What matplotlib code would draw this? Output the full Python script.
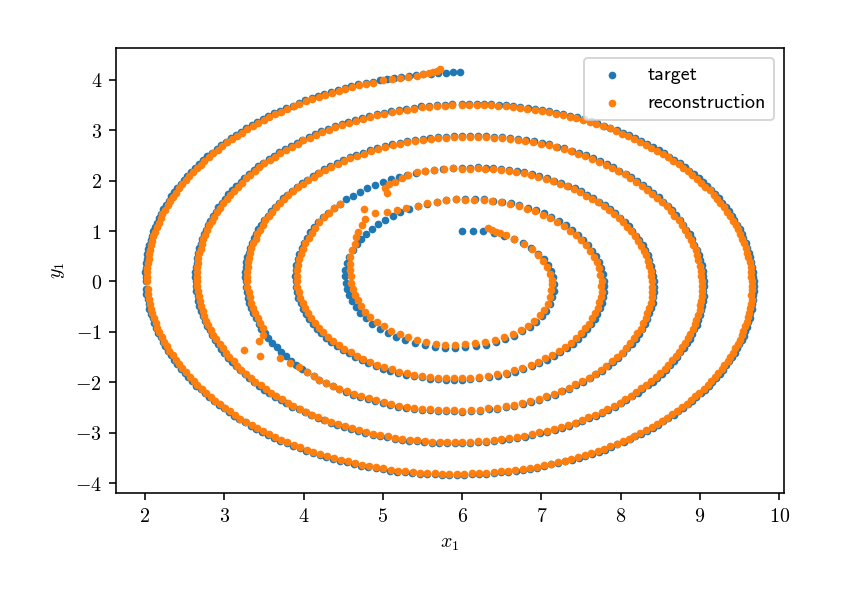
import numpy as np
import matplotlib
matplotlib.use("Agg")
import matplotlib.pyplot as plt
from matplotlib.ticker import FuncFormatter

# spiral centre; angles are degrees clockwise from the top
center_x = 6.0
center_y = 0.0

# target: ring by ring (angle, radius)
ring1_angle = [
    0, 7.5, 15, 22.5, 30, 37.5, 45, 52.5, 60,
    66.5, 73, 79.5, 86, 92.5, 99, 105.5, 112, 118.5,
    124.5, 130.5, 136.5, 142.5, 148.5, 154.5, 160.5, 166.5, 172.5, 178.5,
    184, 189.5, 195, 200.5, 206, 211.5, 217, 222.5, 228, 233.5, 239,
    244, 249, 254, 259, 264, 269, 274, 279, 284, 289, 294, 299,
    303.5, 308, 312.5, 317, 321.5, 326, 330.5, 335, 339.5, 344, 348.5, 353, 357.5,
]
ring1_r = [
    1.00, 1.01, 1.03, 1.04, 1.05, 1.07, 1.08, 1.09, 1.10,
    1.12, 1.13, 1.14, 1.15, 1.16, 1.17, 1.18, 1.20, 1.21,
    1.22, 1.23, 1.24, 1.25, 1.26, 1.27, 1.28, 1.29, 1.30, 1.31,
    1.32, 1.33, 1.34, 1.35, 1.36, 1.37, 1.38, 1.39, 1.40, 1.41, 1.42,
    1.43, 1.44, 1.44, 1.45, 1.46, 1.47, 1.48, 1.49, 1.50, 1.51, 1.51, 1.52,
    1.53, 1.54, 1.55, 1.55, 1.56, 1.57, 1.58, 1.59, 1.59, 1.60, 1.61, 1.62, 1.63,
]

ring2_angle = [
    361.5, 365.5, 369.5, 373.5, 377.5, 381.5, 385.5, 389.5, 393.5, 397.5,
    401.5, 405.5, 409.5, 413.5, 417.5, 421.5, 425.5, 429.5, 433.5, 437.5,
    441.5, 445.5, 449.5,
    453, 456.5, 460, 463.5, 467, 470.5, 474, 477.5, 481, 484.5,
    488, 491.5, 495, 498.5, 502, 505.5, 509, 512.5, 516, 519.5,
    523, 526.5, 530, 533.5, 537,
    540, 543, 546, 549, 552, 555, 558, 561, 564, 567,
    570, 573, 576, 579, 582, 585, 588, 591, 594, 597,
    600, 603, 606, 609, 612, 615, 618, 621, 624, 627,
    630, 633, 636, 639, 642, 645, 648, 651, 654, 657,
    660, 663, 666, 669, 672, 675,
]
ring2_r = [
    1.63, 1.64, 1.65, 1.65, 1.66, 1.67, 1.68, 1.68, 1.69, 1.70,
    1.70, 1.71, 1.72, 1.72, 1.73, 1.74, 1.75, 1.75, 1.76, 1.77,
    1.77, 1.78, 1.79,
    1.79, 1.80, 1.81, 1.81, 1.82, 1.82, 1.83, 1.84, 1.84, 1.85,
    1.85, 1.86, 1.87, 1.87, 1.88, 1.88, 1.89, 1.90, 1.90, 1.91,
    1.92, 1.92, 1.93, 1.93, 1.94,
    1.95, 1.95, 1.96, 1.96, 1.97, 1.97, 1.98, 1.98, 1.99, 1.99,
    2.00, 2.00, 2.01, 2.01, 2.02, 2.02, 2.03, 2.03, 2.04, 2.05,
    2.05, 2.06, 2.06, 2.07, 2.07, 2.08, 2.08, 2.09, 2.09, 2.10,
    2.10, 2.11, 2.11, 2.12, 2.12, 2.13, 2.13, 2.14, 2.14, 2.15,
    2.16, 2.16, 2.17, 2.17, 2.18, 2.18,
]
ring2_tail_angle = [678, 681, 684, 687, 690, 693, 696, 699, 702, 705, 708, 711, 714, 717]
ring2_tail_r = [2.19, 2.19, 2.20, 2.20, 2.21, 2.21, 2.22, 2.22, 2.23, 2.23, 2.24, 2.24, 2.25, 2.25]

ring3_angle = [
    720, 722.5, 725, 727.5, 730, 732.5, 735, 737.5, 740, 742.5,
    745, 747.5, 750, 752.5, 755, 757.5, 760, 762.5, 765, 767.5,
    770, 772.5, 775, 777.5, 780, 782.5, 785, 787.5, 790, 792.5,
    795, 797.5, 800, 802.5, 805, 807.5,
    810, 812.5, 815, 817.5, 820, 822.5, 825, 827.5, 830, 832.5,
    835, 837.5, 840, 842.5, 845, 847.5, 850, 852.5, 855, 857.5,
    860, 862.5, 865, 867.5, 870, 872.5, 875, 877.5, 880, 882.5,
    885, 887.5, 890, 892.5, 895, 897.5,
    900, 902.25, 904.5, 906.75, 909, 911.25, 913.5, 915.75, 918, 920.25,
    922.5, 924.75, 927, 929.25, 931.5, 933.75, 936, 938.25, 940.5, 942.75,
    945, 947.25,
]
ring3_r = [
    2.26, 2.26, 2.27, 2.27, 2.28, 2.28, 2.29, 2.29, 2.30, 2.30,
    2.30, 2.31, 2.31, 2.32, 2.32, 2.33, 2.33, 2.33, 2.34, 2.34,
    2.35, 2.35, 2.36, 2.36, 2.37, 2.37, 2.37, 2.38, 2.38, 2.39,
    2.39, 2.40, 2.40, 2.40, 2.41, 2.41,
    2.42, 2.42, 2.43, 2.43, 2.44, 2.44, 2.44, 2.45, 2.45, 2.46,
    2.46, 2.47, 2.47, 2.47, 2.48, 2.48, 2.49, 2.49, 2.50, 2.50,
    2.51, 2.51, 2.51, 2.52, 2.52, 2.53, 2.53, 2.54, 2.54, 2.54,
    2.55, 2.55, 2.56, 2.56, 2.57, 2.57,
    2.58, 2.58, 2.58, 2.59, 2.59, 2.60, 2.60, 2.60, 2.61, 2.61,
    2.61, 2.62, 2.62, 2.63, 2.63, 2.63, 2.64, 2.64, 2.65, 2.65,
    2.65, 2.66,
]
ring3_gap_angle = [949.5, 951.75, 954, 956.25, 958.5, 960.75, 963, 965.25, 967.5]
ring3_gap_r = [2.66, 2.67, 2.67, 2.67, 2.68, 2.68, 2.69, 2.69, 2.69]
ring3_tail_angle = [
    969.75, 972, 974.25, 976.5, 978.75, 981, 983.25, 985.5, 987.75,
    990, 992, 994, 996, 998, 1000, 1002, 1004, 1006, 1008,
    1010, 1012, 1014, 1016, 1018, 1020, 1022, 1024, 1026, 1028,
    1030, 1032, 1034, 1036, 1038, 1040, 1042, 1044, 1046, 1048,
    1050, 1052, 1054, 1056, 1058, 1060, 1062, 1064, 1066, 1068,
    1070, 1072, 1074, 1076, 1078,
]
ring3_tail_r = [
    2.70, 2.70, 2.70, 2.71, 2.71, 2.72, 2.72, 2.72, 2.73,
    2.73, 2.74, 2.74, 2.74, 2.75, 2.75, 2.75, 2.76, 2.76, 2.76,
    2.77, 2.77, 2.77, 2.78, 2.78, 2.79, 2.79, 2.79, 2.80, 2.80,
    2.80, 2.81, 2.81, 2.81, 2.82, 2.82, 2.82, 2.83, 2.83, 2.83,
    2.84, 2.84, 2.84, 2.85, 2.85, 2.86, 2.86, 2.86, 2.87, 2.87,
    2.87, 2.88, 2.88, 2.88, 2.89,
]

ring4_angle = [
    1080, 1082, 1084, 1086, 1088, 1090, 1092, 1094, 1096, 1098,
    1100, 1102, 1104, 1106, 1108, 1110, 1112, 1114, 1116, 1118,
    1120, 1122, 1124, 1126, 1128, 1130, 1132, 1134, 1136, 1138,
    1140, 1142, 1144, 1146, 1148, 1150, 1152, 1154, 1156, 1158,
    1160, 1162, 1164, 1166, 1168,
    1170, 1171.8, 1173.6, 1175.4, 1177.2, 1179, 1180.8, 1182.6, 1184.4, 1186.2,
    1188, 1189.8, 1191.6, 1193.4, 1195.2, 1197, 1198.8, 1200.6, 1202.4, 1204.2,
    1206, 1207.8, 1209.6, 1211.4, 1213.2, 1215, 1216.8, 1218.6, 1220.4, 1222.2,
    1224, 1225.8, 1227.6, 1229.4, 1231.2, 1233, 1234.8, 1236.6, 1238.4, 1240.2,
    1242, 1243.8, 1245.6, 1247.4, 1249.2, 1251, 1252.8, 1254.6, 1256.4, 1258.2,
    1260, 1261.7, 1263.4, 1265.1, 1266.8, 1268.5, 1270.2, 1271.9, 1273.6, 1275.3,
    1277, 1278.7, 1280.4, 1282.1, 1283.8, 1285.5, 1287.2, 1288.9, 1290.6, 1292.3,
    1294, 1295.7, 1297.4, 1299.1, 1300.8, 1302.5, 1304.2, 1305.9, 1307.6, 1309.3,
    1311, 1312.7, 1314.4, 1316.1, 1317.8, 1319.5, 1321.2, 1322.9, 1324.6, 1326.3,
    1328, 1329.7, 1331.4, 1333.1, 1334.8, 1336.5, 1338.2, 1339.9, 1341.6, 1343.3,
    1345, 1346.7, 1348.4,
    1350, 1351.6, 1353.2, 1354.8, 1356.4, 1358, 1359.6, 1361.2, 1362.8, 1364.4,
    1366, 1367.6, 1369.2, 1370.8, 1372.4, 1374, 1375.6, 1377.2, 1378.8, 1380.4,
    1382, 1383.6, 1385.2, 1386.8, 1388.4, 1390, 1391.6, 1393.2, 1394.8, 1396.4,
    1398, 1399.6, 1401.2, 1402.8, 1404.4, 1406, 1407.6, 1409.2, 1410.8, 1412.4,
    1414, 1415.6, 1417.2, 1418.8, 1420.4, 1422, 1423.6, 1425.2, 1426.8, 1428.4,
    1430, 1431.6, 1433.2, 1434.8, 1436.4, 1438,
]
ring4_r = [
    2.89, 2.89, 2.90, 2.90, 2.90, 2.91, 2.91, 2.91, 2.92, 2.92,
    2.93, 2.93, 2.93, 2.94, 2.94, 2.94, 2.95, 2.95, 2.95, 2.96,
    2.96, 2.96, 2.97, 2.97, 2.97, 2.98, 2.98, 2.98, 2.99, 2.99,
    3.00, 3.00, 3.00, 3.01, 3.01, 3.01, 3.02, 3.02, 3.02, 3.03,
    3.03, 3.03, 3.04, 3.04, 3.04,
    3.05, 3.05, 3.05, 3.06, 3.06, 3.06, 3.07, 3.07, 3.07, 3.08,
    3.08, 3.08, 3.09, 3.09, 3.09, 3.09, 3.10, 3.10, 3.10, 3.11,
    3.11, 3.11, 3.12, 3.12, 3.12, 3.13, 3.13, 3.13, 3.14, 3.14,
    3.14, 3.15, 3.15, 3.15, 3.15, 3.16, 3.16, 3.16, 3.17, 3.17,
    3.17, 3.18, 3.18, 3.18, 3.19, 3.19, 3.19, 3.20, 3.20, 3.20,
    3.20, 3.21, 3.21, 3.21, 3.22, 3.22, 3.22, 3.23, 3.23, 3.23,
    3.23, 3.24, 3.24, 3.24, 3.25, 3.25, 3.25, 3.26, 3.26, 3.26,
    3.26, 3.27, 3.27, 3.27, 3.28, 3.28, 3.28, 3.29, 3.29, 3.29,
    3.29, 3.30, 3.30, 3.30, 3.31, 3.31, 3.31, 3.32, 3.32, 3.32,
    3.32, 3.33, 3.33, 3.33, 3.34, 3.34, 3.34, 3.34, 3.35, 3.35,
    3.35, 3.36, 3.36,
    3.36, 3.37, 3.37, 3.37, 3.37, 3.38, 3.38, 3.38, 3.38, 3.39,
    3.39, 3.39, 3.40, 3.40, 3.40, 3.40, 3.41, 3.41, 3.41, 3.42,
    3.42, 3.42, 3.42, 3.43, 3.43, 3.43, 3.44, 3.44, 3.44, 3.44,
    3.45, 3.45, 3.45, 3.45, 3.46, 3.46, 3.46, 3.47, 3.47, 3.47,
    3.47, 3.48, 3.48, 3.48, 3.49, 3.49, 3.49, 3.49, 3.50, 3.50,
    3.50, 3.51, 3.51, 3.51, 3.51, 3.52,
]

ring5_angle = [
    1440, 1441.5, 1443, 1444.5, 1446, 1447.5, 1449, 1450.5, 1452, 1453.5,
    1455, 1456.5, 1458, 1459.5, 1461, 1462.5, 1464, 1465.5, 1467, 1468.5,
    1470, 1471.5, 1473, 1474.5, 1476, 1477.5, 1479, 1480.5, 1482, 1483.5,
    1485, 1486.5, 1488, 1489.5, 1491, 1492.5, 1494, 1495.5, 1497, 1498.5,
    1500, 1501.5, 1503, 1504.5, 1506, 1507.5, 1509, 1510.5, 1512, 1513.5,
    1515, 1516.5, 1518, 1519.5, 1521, 1522.5, 1524, 1525.5, 1527, 1528.5,
    1530, 1531.4, 1532.8, 1534.2, 1535.6, 1537, 1538.4, 1539.8, 1541.2, 1542.6,
    1544, 1545.4, 1546.8, 1548.2, 1549.6, 1551, 1552.4, 1553.8, 1555.2, 1556.6,
    1558, 1559.4, 1560.8, 1562.2, 1563.6, 1565, 1566.4, 1567.8, 1569.2, 1570.6,
    1572, 1573.4, 1574.8, 1576.2, 1577.6, 1579, 1580.4, 1581.8, 1583.2, 1584.6,
    1586, 1587.4, 1588.8, 1590.2, 1591.6, 1593, 1594.4, 1595.8, 1597.2, 1598.6,
    1600, 1601.4, 1602.8, 1604.2, 1605.6, 1607, 1608.4, 1609.8, 1611.2, 1612.6,
    1614, 1615.4, 1616.8, 1618.2, 1619.6, 1621, 1622.4, 1623.8, 1625.2, 1626.6,
    1628, 1629.4, 1630.8, 1632.2, 1633.6, 1635, 1636.4, 1637.8, 1639.2, 1640.6,
    1642, 1643.4, 1644.8, 1646.2, 1647.6, 1649, 1650.4, 1651.8, 1653.2, 1654.6,
    1656, 1657.4, 1658.8, 1660.2, 1661.6, 1663, 1664.4, 1665.8, 1667.2, 1668.6,
    1670, 1671.4, 1672.8, 1674.2, 1675.6, 1677, 1678.4, 1679.8, 1681.2, 1682.6,
    1684, 1685.4, 1686.8, 1688.2, 1689.6, 1691, 1692.4, 1693.8, 1695.2, 1696.6,
    1698, 1699.4, 1700.8, 1702.2, 1703.6, 1705, 1706.4, 1707.8,
    1710, 1711.3, 1712.6, 1713.9, 1715.2, 1716.5, 1717.8, 1719.1, 1720.4, 1721.7,
    1723, 1724.3, 1725.6, 1726.9, 1728.2, 1729.5, 1730.8, 1732.1, 1733.4, 1734.7,
    1736, 1737.3, 1738.6, 1739.9, 1741.2, 1742.5, 1743.8, 1745.1, 1746.4, 1747.7,
    1749, 1750.3, 1751.6, 1752.9, 1754.2, 1755.5, 1756.8, 1758.1, 1759.4, 1760.7,
    1762, 1763.3, 1764.6, 1765.9, 1767.2, 1768.5, 1769.8, 1771.1, 1772.4, 1773.7,
    1775, 1776.3, 1777.6, 1778.9, 1780.2, 1781.5, 1782.8, 1784.1,
]
ring5_r = [
    3.52, 3.52, 3.53, 3.53, 3.53, 3.53, 3.54, 3.54, 3.54, 3.54,
    3.55, 3.55, 3.55, 3.55, 3.56, 3.56, 3.56, 3.56, 3.57, 3.57,
    3.57, 3.58, 3.58, 3.58, 3.58, 3.59, 3.59, 3.59, 3.59, 3.60,
    3.60, 3.60, 3.60, 3.61, 3.61, 3.61, 3.61, 3.62, 3.62, 3.62,
    3.63, 3.63, 3.63, 3.63, 3.64, 3.64, 3.64, 3.64, 3.65, 3.65,
    3.65, 3.65, 3.66, 3.66, 3.66, 3.66, 3.67, 3.67, 3.67, 3.67,
    3.68, 3.68, 3.68, 3.68, 3.69, 3.69, 3.69, 3.69, 3.70, 3.70,
    3.70, 3.70, 3.71, 3.71, 3.71, 3.71, 3.72, 3.72, 3.72, 3.72,
    3.73, 3.73, 3.73, 3.73, 3.74, 3.74, 3.74, 3.74, 3.75, 3.75,
    3.75, 3.75, 3.76, 3.76, 3.76, 3.76, 3.77, 3.77, 3.77, 3.77,
    3.78, 3.78, 3.78, 3.78, 3.79, 3.79, 3.79, 3.79, 3.80, 3.80,
    3.80, 3.80, 3.80, 3.81, 3.81, 3.81, 3.81, 3.82, 3.82, 3.82,
    3.82, 3.83, 3.83, 3.83, 3.83, 3.84, 3.84, 3.84, 3.84, 3.85,
    3.85, 3.85, 3.85, 3.86, 3.86, 3.86, 3.86, 3.87, 3.87, 3.87,
    3.87, 3.88, 3.88, 3.88, 3.88, 3.89, 3.89, 3.89, 3.89, 3.90,
    3.90, 3.90, 3.90, 3.91, 3.91, 3.91, 3.91, 3.92, 3.92, 3.92,
    3.92, 3.93, 3.93, 3.93, 3.93, 3.93, 3.94, 3.94, 3.94, 3.94,
    3.95, 3.95, 3.95, 3.95, 3.96, 3.96, 3.96, 3.96, 3.97, 3.97,
    3.97, 3.97, 3.98, 3.98, 3.98, 3.98, 3.99, 3.99,
    3.99, 3.99, 4.00, 4.00, 4.00, 4.00, 4.01, 4.01, 4.01, 4.01,
    4.02, 4.02, 4.02, 4.02, 4.02, 4.03, 4.03, 4.03, 4.03, 4.04,
    4.04, 4.04, 4.04, 4.04, 4.05, 4.05, 4.05, 4.05, 4.06, 4.06,
    4.06, 4.06, 4.07, 4.07, 4.07, 4.07, 4.07, 4.08, 4.08, 4.08,
    4.08, 4.09, 4.09, 4.09, 4.09, 4.09, 4.10, 4.10, 4.10, 4.10,
    4.11, 4.11, 4.11, 4.11, 4.12, 4.12, 4.12, 4.12,
]
ring5_tail_angle = [1785.4, 1786.7, 1788, 1789.3, 1790.6, 1791.9, 1793.2, 1794.5, 1795.8, 1797.1, 1798.4, 1799.7]
ring5_tail_r = [4.12, 4.13, 4.13, 4.13, 4.13, 4.14, 4.14, 4.14, 4.14, 4.14, 4.15, 4.15]

# reconstruction: shares most angles with the target, own radii and the stray points
recon_start_angle = [
    17, 20, 23.5, 26.5, 31, 38, 46, 54, 61, 68, 75, 82, 89,
    92.5, 99, 105.5, 112, 118.5,
    124.5, 130.5, 136.5, 142.5, 148.5, 154.5, 160.5, 166.5, 172.5, 178.5,
    184, 189.5, 195, 200.5, 206, 211.5, 217, 222.5, 228, 233.5, 239,
    244, 249, 254, 259, 264, 269, 274, 279, 284, 289, 294, 299,
    303.5, 307, 311.5, 315.5, 319.5, 321, 325.5, 330, 334, 339.5, 344, 348.5, 353, 357.5,
]
recon_start_r = [
    1.11, 1.09, 1.08, 1.08, 1.07, 1.07, 1.08, 1.09, 1.10, 1.10, 1.11, 1.12, 1.13,
    1.13, 1.14, 1.15, 1.17, 1.18,
    1.19, 1.20, 1.21, 1.21, 1.22, 1.22, 1.23, 1.24, 1.24, 1.25,
    1.26, 1.27, 1.28, 1.29, 1.30, 1.30, 1.31, 1.32, 1.33, 1.34, 1.35,
    1.36, 1.37, 1.37, 1.38, 1.39, 1.40, 1.41, 1.43, 1.46, 1.49, 1.52, 1.55,
    1.60, 1.64, 1.69, 1.75, 1.90, 1.74, 1.68, 1.645, 1.61, 1.60, 1.61, 1.61, 1.62, 1.63,
]
ring2_recon_r = [
    1.62, 1.63, 1.64, 1.64, 1.65, 1.65, 1.66, 1.66, 1.67, 1.67,
    1.67, 1.68, 1.69, 1.69, 1.70, 1.71, 1.72, 1.72, 1.73, 1.74,
    1.74, 1.75, 1.76,
    1.76, 1.77, 1.78, 1.78, 1.79, 1.79, 1.80, 1.81, 1.81, 1.82,
    1.82, 1.83, 1.84, 1.84, 1.85, 1.85, 1.86, 1.87, 1.87, 1.88,
    1.89, 1.89, 1.90, 1.90, 1.91,
    1.92, 1.92, 1.93, 1.93, 1.94, 1.94, 1.95, 1.95, 1.96, 1.96,
    1.97, 1.97, 1.98, 1.98, 1.99, 1.99, 2.00, 2.00, 2.01, 2.02,
    2.02, 2.03, 2.03, 2.04, 2.04, 2.05, 2.05, 2.07, 2.07, 2.08,
    2.08, 2.09, 2.09, 2.10, 2.10, 2.11, 2.11, 2.12, 2.12, 2.13,
    2.14, 2.15, 2.16, 2.16, 2.17, 2.17,
]
recon_hook_angle = [691.5, 692.3, 694.3, 696.8, 699.6, 702.2, 705.2, 708, 711, 714, 717]
recon_hook_r = [1.99, 2.09, 2.14, 2.15, 2.19, 2.22, 2.25, 2.24, 2.24, 2.24, 2.25]
ring3_recon_r = [
    2.24, 2.24, 2.25, 2.25, 2.26, 2.26, 2.27, 2.27, 2.28, 2.28,
    2.28, 2.29, 2.29, 2.30, 2.30, 2.31, 2.31, 2.31, 2.32, 2.32,
    2.33, 2.33, 2.34, 2.34, 2.35, 2.35, 2.35, 2.36, 2.36, 2.37,
    2.37, 2.38, 2.38, 2.38, 2.39, 2.39,
    2.40, 2.40, 2.41, 2.41, 2.42, 2.42, 2.42, 2.43, 2.43, 2.44,
    2.44, 2.45, 2.45, 2.45, 2.46, 2.46, 2.47, 2.47, 2.48, 2.48,
    2.49, 2.49, 2.49, 2.50, 2.50, 2.51, 2.51, 2.52, 2.52, 2.52,
    2.53, 2.53, 2.54, 2.54, 2.55, 2.55,
    2.56, 2.56, 2.56, 2.57, 2.57, 2.58, 2.58, 2.58, 2.59, 2.59,
    2.59, 2.60, 2.60, 2.61, 2.61, 2.61, 2.64, 2.64, 2.65, 2.65,
    2.65, 2.66,
]
recon_loop_angle = [950.3, 953.3, 956.5, 959.9, 963.8, 965.1, 967.2]
recon_loop_r = [2.67, 2.70, 2.76, 2.95, 3.06, 2.82, 2.73]
ring3_tail_recon_r = [
    2.68, 2.68, 2.68, 2.69, 2.69, 2.70, 2.70, 2.70, 2.71,
    2.71, 2.72, 2.72, 2.72, 2.73, 2.73, 2.73, 2.74, 2.74, 2.74,
    2.75, 2.75, 2.75, 2.76, 2.76, 2.77, 2.77, 2.77, 2.78, 2.78,
    2.78, 2.79, 2.79, 2.79, 2.80, 2.80, 2.80, 2.81, 2.81, 2.81,
    2.82, 2.82, 2.82, 2.83, 2.83, 2.84, 2.84, 2.84, 2.85, 2.85,
    2.85, 2.86, 2.86, 2.86, 2.87,
]
ring4_recon_r = [
    2.87, 2.87, 2.88, 2.88, 2.88, 2.89, 2.89, 2.89, 2.90, 2.90,
    2.91, 2.91, 2.91, 2.92, 2.92, 2.92, 2.93, 2.93, 2.93, 2.94,
    2.94, 2.94, 2.95, 2.95, 2.95, 2.96, 2.96, 2.96, 2.97, 2.97,
    2.98, 2.98, 2.98, 2.99, 2.99, 2.99, 3.00, 3.00, 3.00, 3.01,
    3.01, 3.01, 3.02, 3.02, 3.02,
    3.03, 3.03, 3.03, 3.04, 3.04, 3.04, 3.05, 3.05, 3.05, 3.06,
    3.06, 3.06, 3.07, 3.07, 3.07, 3.07, 3.08, 3.08, 3.08, 3.09,
    3.09, 3.09, 3.10, 3.10, 3.10, 3.11, 3.11, 3.11, 3.12, 3.12,
    3.12, 3.13, 3.13, 3.13, 3.13, 3.14, 3.14, 3.14, 3.15, 3.15,
    3.15, 3.16, 3.16, 3.16, 3.17, 3.17, 3.17, 3.18, 3.18, 3.18,
    3.18, 3.19, 3.19, 3.19, 3.20, 3.20, 3.20, 3.21, 3.21, 3.21,
    3.21, 3.22, 3.22, 3.22, 3.23, 3.23, 3.23, 3.24, 3.24, 3.24,
    3.24, 3.25, 3.25, 3.25, 3.26, 3.26, 3.26, 3.27, 3.27, 3.27,
    3.27, 3.28, 3.28, 3.28, 3.29, 3.29, 3.29, 3.30, 3.30, 3.30,
    3.30, 3.31, 3.31, 3.31, 3.32, 3.32, 3.32, 3.32, 3.33, 3.33,
    3.33, 3.34, 3.34,
    3.34, 3.35, 3.35, 3.35, 3.35, 3.36, 3.36, 3.36, 3.36, 3.37,
    3.37, 3.37, 3.38, 3.38, 3.38, 3.38, 3.39, 3.39, 3.39, 3.40,
    3.40, 3.40, 3.40, 3.41, 3.41, 3.41, 3.42, 3.42, 3.42, 3.42,
    3.43, 3.43, 3.43, 3.43, 3.44, 3.44, 3.44, 3.45, 3.45, 3.45,
    3.45, 3.46, 3.46, 3.46, 3.47, 3.47, 3.47, 3.47, 3.48, 3.48,
    3.48, 3.49, 3.49, 3.49, 3.49, 3.50,
]
ring5_recon_r = [
    3.50, 3.50, 3.51, 3.51, 3.51, 3.51, 3.52, 3.52, 3.52, 3.52,
    3.53, 3.53, 3.53, 3.53, 3.54, 3.54, 3.54, 3.54, 3.55, 3.55,
    3.55, 3.56, 3.56, 3.56, 3.56, 3.57, 3.57, 3.57, 3.57, 3.58,
    3.58, 3.58, 3.58, 3.59, 3.59, 3.59, 3.59, 3.60, 3.60, 3.60,
    3.61, 3.61, 3.61, 3.61, 3.62, 3.62, 3.62, 3.62, 3.63, 3.63,
    3.63, 3.63, 3.64, 3.64, 3.64, 3.64, 3.65, 3.65, 3.65, 3.65,
    3.66, 3.66, 3.66, 3.66, 3.67, 3.67, 3.67, 3.67, 3.68, 3.68,
    3.68, 3.68, 3.69, 3.69, 3.69, 3.69, 3.70, 3.70, 3.70, 3.70,
    3.71, 3.71, 3.71, 3.71, 3.72, 3.72, 3.72, 3.72, 3.73, 3.73,
    3.73, 3.73, 3.74, 3.74, 3.74, 3.74, 3.75, 3.75, 3.75, 3.75,
    3.76, 3.76, 3.76, 3.76, 3.77, 3.77, 3.77, 3.77, 3.78, 3.78,
    3.78, 3.78, 3.78, 3.79, 3.79, 3.79, 3.79, 3.80, 3.80, 3.80,
    3.80, 3.81, 3.81, 3.81, 3.81, 3.82, 3.82, 3.82, 3.82, 3.83,
    3.83, 3.83, 3.83, 3.84, 3.84, 3.84, 3.84, 3.85, 3.85, 3.85,
    3.85, 3.86, 3.86, 3.86, 3.86, 3.87, 3.87, 3.87, 3.87, 3.88,
    3.88, 3.88, 3.88, 3.89, 3.89, 3.89, 3.89, 3.90, 3.90, 3.90,
    3.90, 3.91, 3.91, 3.91, 3.91, 3.91, 3.92, 3.92, 3.92, 3.92,
    3.93, 3.93, 3.93, 3.93, 3.94, 3.94, 3.94, 3.94, 3.95, 3.95,
    3.95, 3.95, 3.96, 3.96, 3.96, 3.96, 3.97, 3.97,
    3.97, 3.97, 3.98, 3.98, 3.98, 3.98, 3.99, 3.99, 3.99, 3.99,
    4.00, 4.00, 4.00, 4.00, 4.00, 4.01, 4.01, 4.01, 4.01, 4.02,
    4.02, 4.02, 4.02, 4.02, 4.03, 4.03, 4.03, 4.03, 4.04, 4.04,
    4.04, 4.04, 4.05, 4.05, 4.05, 4.05, 4.05, 4.06, 4.06, 4.06,
    4.06, 4.07, 4.07, 4.07, 4.07, 4.07, 4.08, 4.08, 4.08, 4.08,
    4.09, 4.09, 4.09, 4.09, 4.10, 4.10, 4.10, 4.10,
]
recon_end_angle = [1786, 1787.5, 1789, 1790.5, 1792, 1793.2, 1794.3, 1795, 1795.7, 1796.2]
recon_end_r = [4.11, 4.11, 4.12, 4.12, 4.12, 4.14, 4.15, 4.17, 4.18, 4.22]


def spiral_xy(parts):
    xs, ys = [], []
    for angle, radius in parts:
        assert len(angle) == len(radius), (len(angle), len(radius))
        a = np.radians(angle)
        r = np.array(radius)
        xs.append(center_x + r * np.sin(a))
        ys.append(center_y + r * np.cos(a))
    return np.concatenate(xs), np.concatenate(ys)


tx, ty = spiral_xy([
    (ring1_angle, ring1_r), (ring2_angle, ring2_r), (ring2_tail_angle, ring2_tail_r),
    (ring3_angle, ring3_r), (ring3_gap_angle, ring3_gap_r), (ring3_tail_angle, ring3_tail_r),
    (ring4_angle, ring4_r), (ring5_angle, ring5_r), (ring5_tail_angle, ring5_tail_r)])
rx, ry = spiral_xy([
    (recon_start_angle, recon_start_r), (ring2_angle, ring2_recon_r), (recon_hook_angle, recon_hook_r),
    (ring3_angle, ring3_recon_r), (recon_loop_angle, recon_loop_r), (ring3_tail_angle, ring3_tail_recon_r),
    (ring4_angle, ring4_recon_r), (ring5_angle, ring5_recon_r), (recon_end_angle, recon_end_r)])

plt.rcParams['mathtext.fontset'] = 'cm'

fig = plt.figure(figsize=(841 / 144, 601 / 144), dpi=144)
ax = fig.add_axes([0.1379, 0.1802, 0.7943, 0.7399])
ax.scatter(tx, ty, s=8, color='#1f77b4', label='target')
ax.scatter(rx, ry, s=8, color='#ff7f0e', label='reconstruction')

ax.set_xlim(1.634, 10.06)
ax.set_ylim(-4.19, 4.63)
ax.set_xticks(range(2, 11))
ax.set_yticks(range(-4, 5))
fmt = FuncFormatter(lambda v, pos: r'$%d$' % v)
ax.xaxis.set_major_formatter(fmt)
ax.yaxis.set_major_formatter(fmt)
ax.set_xlabel(r'$x_1$')
ax.set_ylabel(r'$y_1$')

ax.legend(loc='upper right', prop={'family': ['cmss10', 'DejaVu Sans'], 'size': 10})

fig.savefig('out.png', dpi=144)
plt.close()
